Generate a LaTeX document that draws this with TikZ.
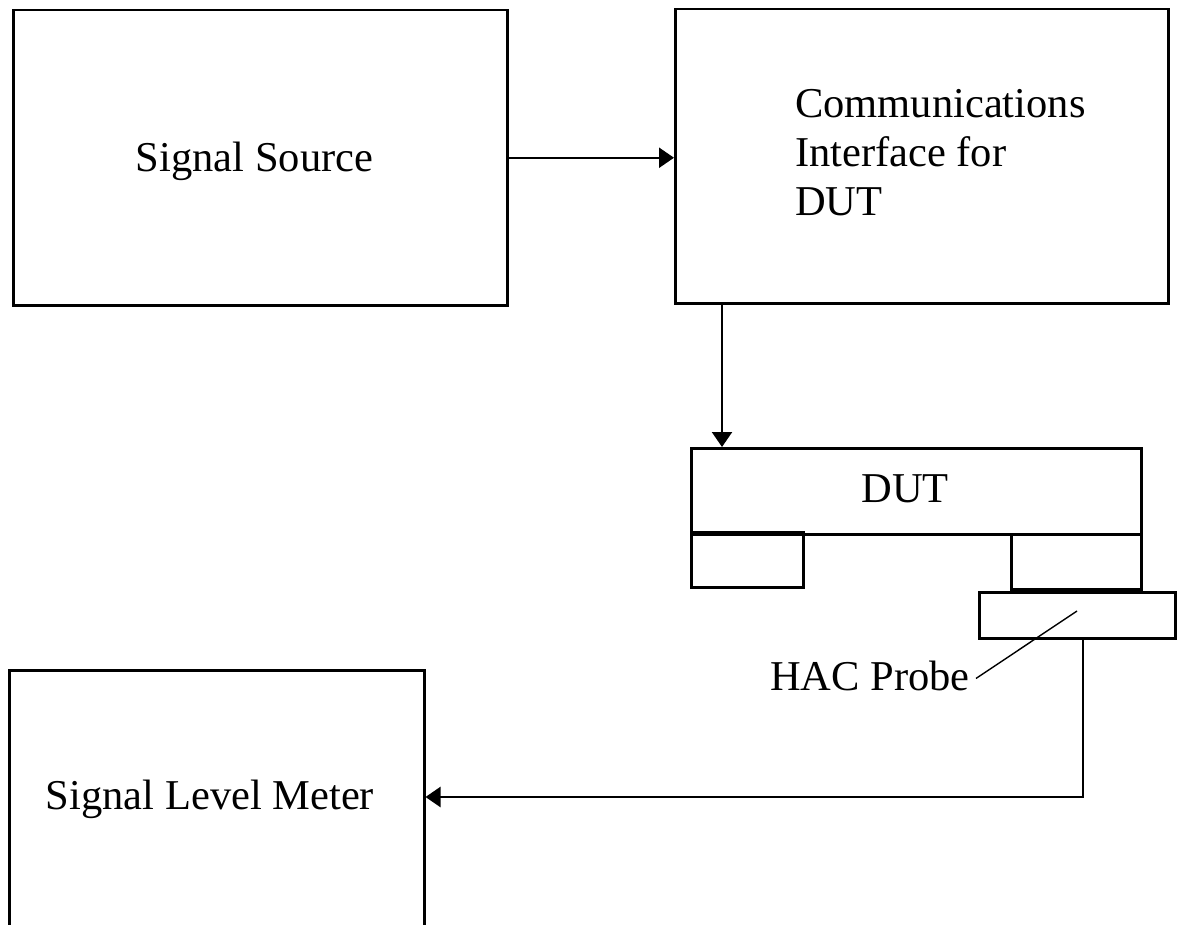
\documentclass[tikz,border=0pt]{standalone}
\usepackage{fontspec}
\setmainfont{Liberation Serif}
\usetikzlibrary{arrows.meta}
\begin{document}
\begin{tikzpicture}[x=1pt,y=-1pt,
  box/.style={draw, line width=2.5pt, inner sep=0pt, anchor=north west},
  lbl/.style={font=\fontsize{42.5}{49}\selectfont, inner sep=0pt},
  conn/.style={line width=2.2pt, -{Triangle[length=15pt,width=20pt]}},
  thickedge/.style={line width=4.5pt},
  leader/.style={line width=1.4pt},
]
\useasboundingbox (0,0) rectangle (1177,925);
% boxes
\node[box, minimum width=494pt, minimum height=295pt] (src) at (12,9) {};
\node[box, minimum width=493pt, minimum height=294pt] (comm) at (674,8) {};
\node[box, minimum width=450pt, minimum height=86pt] (dut) at (690,447) {};
\node[box, minimum width=112pt, minimum height=53pt] (padl) at (690,533) {};
\node[box, minimum width=130pt, minimum height=55pt] (padr) at (1010,533) {};
\node[box, minimum width=196pt, minimum height=46pt] (probe) at (978,591) {};
\node[box, minimum width=415pt, minimum height=262pt] (meter) at (8,669) {};
\draw[thickedge] (padl.north west) -- (padl.north east);
\draw[thickedge] (padr.south west) -- (padr.south east);
% texts
\node[lbl, anchor=base] (srctxt) at (254.5,172) {Signal Source};
\node[lbl, anchor=base west] (c1) at (795,118) {Communications};
\node[lbl, anchor=base west] (c2) at (795,167) {Interface for};
\node[lbl, anchor=base west] (c3) at (795,216) {DUT};
\node[lbl, anchor=base] (duttxt) at (905,502) {DUT};
\node[lbl, anchor=base east] (hac) at (970,690) {HAC Probe};
\node[lbl, anchor=base] (metertxt) at (210,809) {Signal Level Meter};
% connectors
\coordinate (leadtip) at (1077,611);
\draw[leader] (leadtip) -- ([xshift=6pt,yshift=-3pt]hac.east);
\draw[conn] (src.east) -- (src.east -| comm.west);
\draw[conn] ([xshift=48pt]comm.south west) -- ([xshift=32pt]dut.north west);
\draw[conn] ([xshift=6pt]probe.south) |- (meter.east |- 0,797);
\end{tikzpicture}
\end{document}
